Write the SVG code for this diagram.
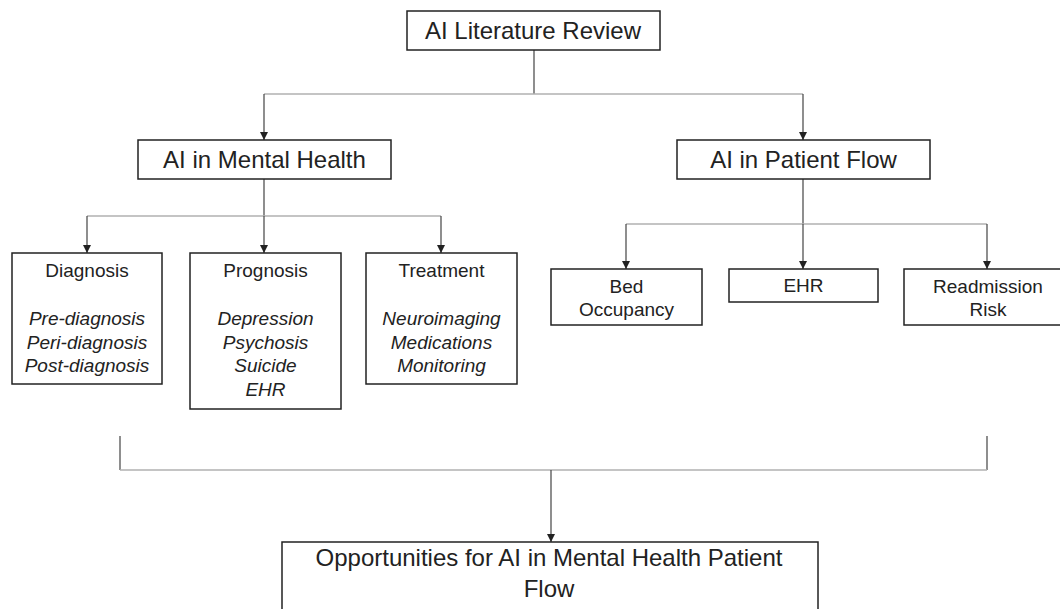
<svg xmlns="http://www.w3.org/2000/svg" width="1060" height="609" viewBox="0 0 1060 609">
<defs>
<marker id="arr" viewBox="0 0 10 10" refX="10" refY="5" markerWidth="8" markerHeight="8" markerUnits="userSpaceOnUse" orient="auto">
<path d="M0,0 L10,5 L0,10 z" fill="#222"/>
</marker>
<style>
.box{fill:#fff;stroke:#222;stroke-width:1.5}
.t{font-family:"Liberation Sans",Arial,sans-serif;fill:#222;text-anchor:middle}
.big{font-size:24px}
.sm{font-size:19px}
.it{font-style:italic}
.h{stroke:#b0b0b0;stroke-width:1.5;fill:none}
.v{stroke:#444;stroke-width:1.2;fill:none}
</style>
</defs>
<rect width="1060" height="609" fill="#fff"/>
<g id="connectors">
<line class="v" x1="534" y1="50" x2="534" y2="94"/>
<line class="h" x1="264" y1="94" x2="803" y2="94"/>
<line class="v" x1="264" y1="94" x2="264" y2="140" marker-end="url(#arr)"/>
<line class="v" x1="803" y1="94" x2="803" y2="140" marker-end="url(#arr)"/>
<line class="v" x1="264" y1="179" x2="264" y2="216"/>
<line class="h" x1="87" y1="216" x2="441" y2="216"/>
<line class="v" x1="87" y1="216" x2="87" y2="253" marker-end="url(#arr)"/>
<line class="v" x1="264" y1="216" x2="264" y2="253" marker-end="url(#arr)"/>
<line class="v" x1="441" y1="216" x2="441" y2="253" marker-end="url(#arr)"/>
<line class="v" x1="803" y1="179" x2="803" y2="224"/>
<line class="h" x1="626" y1="224" x2="987" y2="224"/>
<line class="v" x1="626" y1="224" x2="626" y2="269" marker-end="url(#arr)"/>
<line class="v" x1="803" y1="224" x2="803" y2="269" marker-end="url(#arr)"/>
<line class="v" x1="987" y1="224" x2="987" y2="269" marker-end="url(#arr)"/>
<line class="v" x1="120" y1="436" x2="120" y2="470"/>
<line class="v" x1="987" y1="436" x2="987" y2="470"/>
<line class="h" x1="120" y1="470" x2="987" y2="470"/>
<line class="v" x1="551" y1="470" x2="551" y2="542" marker-end="url(#arr)"/>
</g>
<g id="review">
<rect class="box" x="407" y="11" width="253" height="39"/>
<text class="t big" x="533" y="39">AI Literature Review</text>
</g>
<g id="mental">
<rect class="box" x="138" y="140" width="253" height="39"/>
<text class="t big" x="264.5" y="168">AI in Mental Health</text>
</g>
<g id="flow">
<rect class="box" x="677" y="140" width="253" height="39"/>
<text class="t big" x="803.5" y="168">AI in Patient Flow</text>
</g>
<g id="diagnosis">
<rect class="box" x="12" y="253" width="150" height="131"/>
<text class="t sm" x="87" y="277">Diagnosis</text>
<text class="t sm it" x="87" y="325">Pre-diagnosis</text>
<text class="t sm it" x="87" y="348.5">Peri-diagnosis</text>
<text class="t sm it" x="87" y="372">Post-diagnosis</text>
</g>
<g id="prognosis">
<rect class="box" x="190" y="253" width="151" height="156"/>
<text class="t sm" x="265.5" y="277">Prognosis</text>
<text class="t sm it" x="265.5" y="325">Depression</text>
<text class="t sm it" x="265.5" y="348.5">Psychosis</text>
<text class="t sm it" x="265.5" y="372">Suicide</text>
<text class="t sm it" x="265.5" y="395.5">EHR</text>
</g>
<g id="treatment">
<rect class="box" x="366" y="253" width="151" height="131"/>
<text class="t sm" x="441.5" y="277">Treatment</text>
<text class="t sm it" x="441.5" y="325">Neuroimaging</text>
<text class="t sm it" x="441.5" y="348.5">Medications</text>
<text class="t sm it" x="441.5" y="372">Monitoring</text>
</g>
<g id="bed">
<rect class="box" x="551" y="269" width="151" height="56"/>
<text class="t sm" x="626.5" y="293">Bed</text>
<text class="t sm" x="626.5" y="316">Occupancy</text>
</g>
<g id="ehr">
<rect class="box" x="729" y="269" width="149" height="33"/>
<text class="t sm" x="803.5" y="292">EHR</text>
</g>
<g id="readmission">
<rect class="box" x="904" y="269" width="166" height="56"/>
<text class="t sm" x="988" y="293">Readmission</text>
<text class="t sm" x="988" y="316">Risk</text>
</g>
<g id="opportunities">
<rect class="box" x="282" y="542" width="536" height="90"/>
<text class="t big" x="549" y="566">Opportunities for AI in Mental Health Patient</text>
<text class="t big" x="549" y="597">Flow</text>
</g>
</svg>
